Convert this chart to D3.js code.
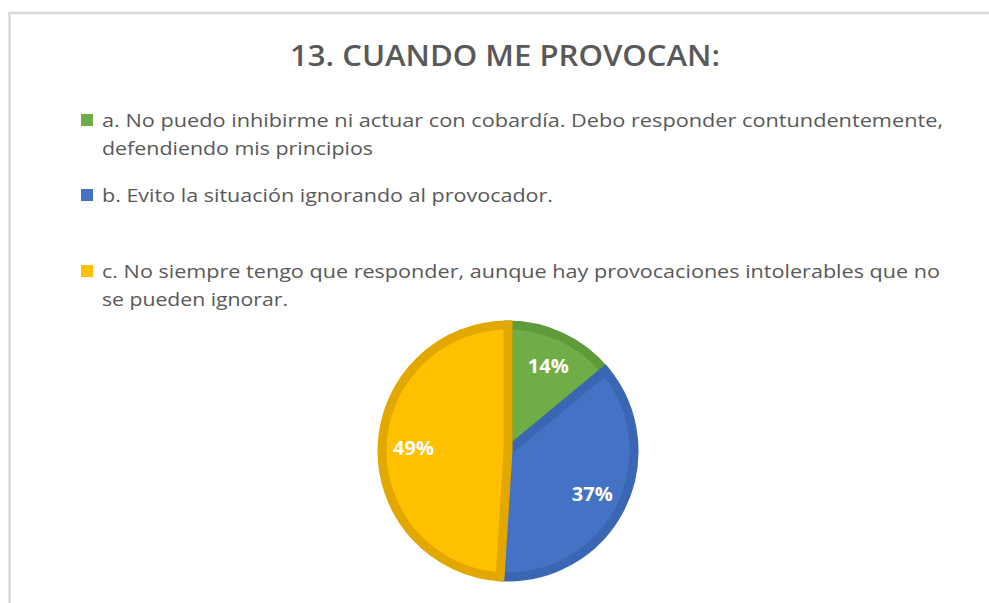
<!DOCTYPE html>
<html>
<head>
<meta charset="utf-8">
<script src="https://cdn.jsdelivr.net/npm/d3@7"></script>
<style>
  body { margin: 0; background: #fff; }
  svg { display: block; }
</style>
</head>
<body>
<div id="chart"></div>
<script>
// data
const categories = ["a", "b", "c"];
const values = [14, 37, 49];
const legendLines = [
  ["a. No puedo inhibirme ni actuar con cobardía. Debo responder contundentemente,",
   "defendiendo mis principios"],
  ["b. Evito la situación ignorando al provocador."],
  ["c. No siempre tengo que responder, aunque hay provocaciones intolerables que no",
   "se pueden ignorar."]
];
const title = "13. CUANDO ME PROVOCAN:";

const width = 989, height = 603;
const fills = ["#70ad47", "#4472c4", "#ffc000"];
const strokes = ["#5f9a3b", "#3b66b3", "#e3a800"];

const svg = d3.select("#chart").append("svg")
  .attr("width", width)
  .attr("height", height);

// chart area frame
svg.append("rect")
  .attr("x", 9.5).attr("y", 13)
  .attr("width", 1000).attr("height", 700)
  .attr("fill", "#fff")
  .attr("stroke", "#d9d9d9")
  .attr("stroke-width", 2.5);

// title
svg.append("text")
  .attr("x", 505).attr("y", 66)
  .attr("text-anchor", "middle")
  .attr("font-family", "Open Sans")
  .attr("font-weight", 600)
  .attr("font-size", 28)
  .attr("fill", "#595959")
  .attr("textLength", 430)
  .attr("lengthAdjust", "spacingAndGlyphs")
  .text(title);

// legend
const legendTop = [127, 202, 278];
const lineWidths = [[841, 271], [451], [838, 186]];
const legend = svg.append("g");
categories.forEach((c, i) => {
  legend.append("rect")
    .attr("x", 81).attr("y", legendTop[i] - 13)
    .attr("width", 12).attr("height", 12)
    .attr("fill", fills[i]);
  legendLines[i].forEach((line, j) => {
    legend.append("text")
      .attr("x", 102).attr("y", legendTop[i] + j * 28)
      .attr("font-family", "Open Sans")
      .attr("font-size", 18.5)
      .attr("fill", "#595959")
      .attr("textLength", lineWidths[i][j])
      .attr("lengthAdjust", "spacingAndGlyphs")
      .text(line);
  });
});

// pie
const cx = 508, cy = 451, r = 126;
const pie = d3.pie().sort(null).value(d => d);
const arc = d3.arc().innerRadius(0).outerRadius(r);
const labelArc = d3.arc().innerRadius(r * 0.75).outerRadius(r * 0.75);

const g = svg.append("g").attr("transform", `translate(${cx},${cy})`);
const arcs = pie(values);

g.selectAll("path")
  .data(arcs)
  .join("path")
  .attr("d", arc)
  .attr("fill", (d, i) => fills[i])
  .attr("stroke", (d, i) => strokes[i])
  .attr("stroke-width", 9)
  .attr("stroke-linejoin", "miter");

g.selectAll("text")
  .data(arcs)
  .join("text")
  .attr("transform", d => `translate(${labelArc.centroid(d)})`)
  .attr("text-anchor", "middle")
  .attr("dy", "0.36em")
  .attr("font-family", "Open Sans")
  .attr("font-weight", 700)
  .attr("font-size", 20)
  .attr("fill", "#fff")
  .text(d => d.data + "%");
</script>
</body>
</html>
